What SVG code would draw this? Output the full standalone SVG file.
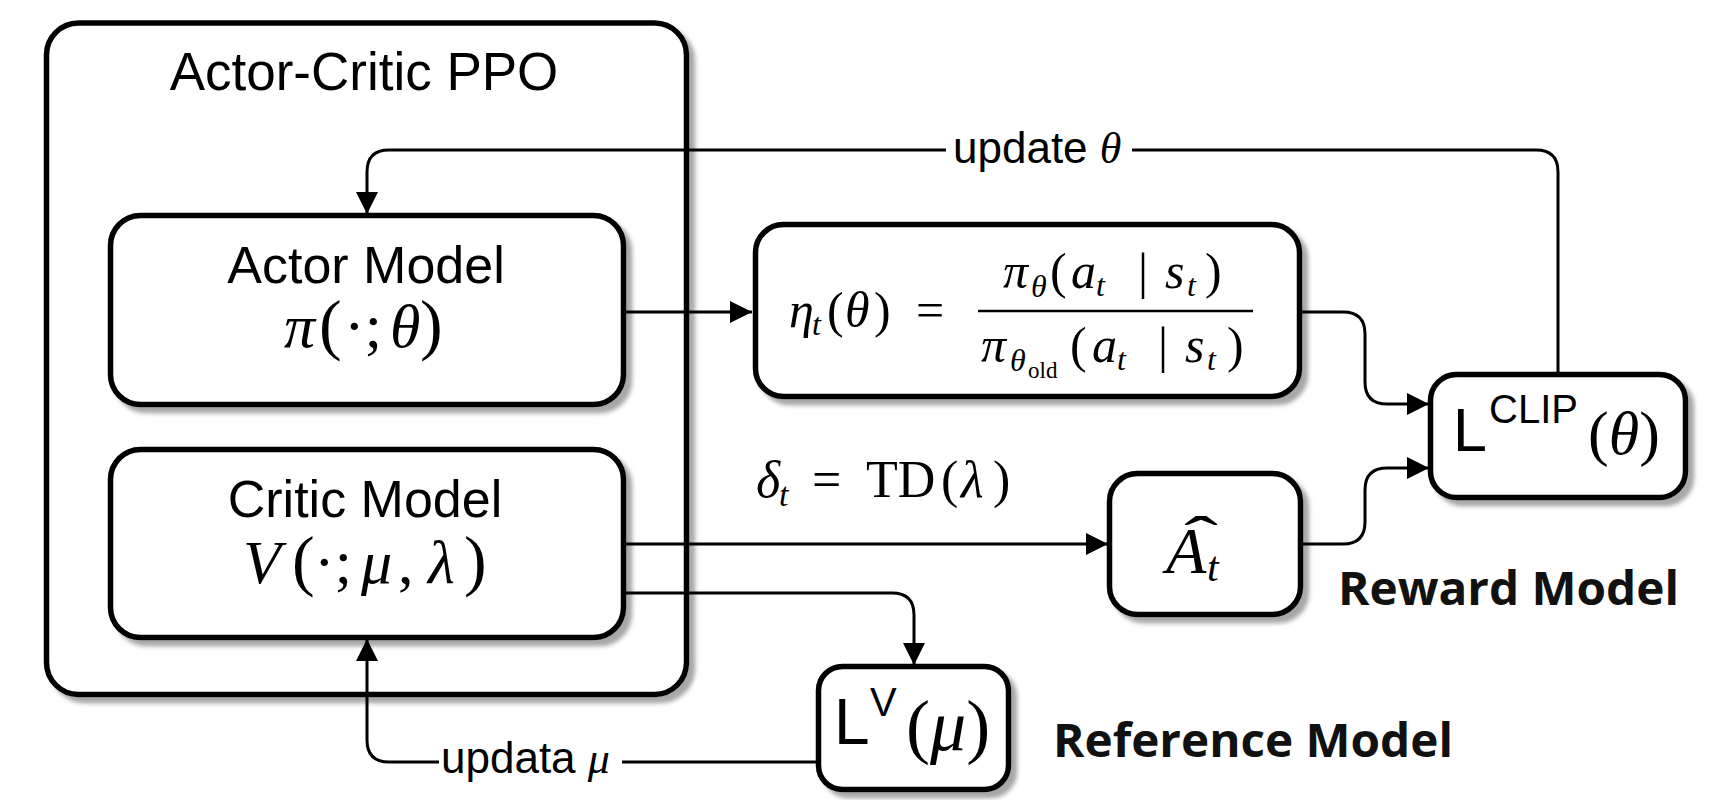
<svg xmlns="http://www.w3.org/2000/svg" width="1734" height="800" viewBox="0 0 1734 800">
<defs>
<filter id="sh" x="-10%" y="-10%" width="130%" height="130%">
<feDropShadow dx="6" dy="6" stdDeviation="2" flood-color="#777" flood-opacity="0.65"/>
</filter>
<marker id="ah" markerUnits="userSpaceOnUse" markerWidth="24" markerHeight="24" refX="22" refY="11" orient="auto">
<path d="M0,0 L22,11 L0,22 Z" fill="#000"/>
</marker>
</defs>
<style>
.box{fill:#fff;stroke:#000;stroke-width:5.5;filter:url(#sh)}
.con{fill:none;stroke:#000;stroke-width:3}
.arr{marker-end:url(#ah)}
.sans{font-family:"Liberation Sans",Arial,sans-serif;fill:#000}
.m{font-family:"Liberation Serif","Times New Roman",serif;fill:#000}
.i{font-style:italic}
.bold{font-family:"Open Sans","Noto Sans",sans-serif;font-weight:700;fill:#111}
</style>
<rect width="1734" height="800" fill="#fff"/>

<g id="actor-critic-ppo">
<rect class="box" x="46.5" y="23" width="640" height="671.5" rx="32"/>
<text class="sans" x="364" y="90" font-size="53" text-anchor="middle">Actor-Critic PPO</text>
</g>

<g id="actor-model">
<rect class="box" x="110.5" y="215.5" width="513" height="189" rx="30"/>
<text class="sans" x="366" y="283" font-size="52" text-anchor="middle">Actor Model</text>
<text class="m" y="347" font-size="62"><tspan x="284" class="i">π</tspan><tspan x="319" font-size="68">(</tspan><tspan x="344">·;</tspan><tspan x="390" class="i">θ</tspan><tspan x="420" font-size="68">)</tspan></text>
</g>

<g id="critic-model">
<rect class="box" x="110.5" y="449.5" width="513" height="188" rx="30"/>
<text class="sans" x="365" y="517" font-size="52" text-anchor="middle">Critic Model</text>
<text class="m" y="583" font-size="62"><tspan x="243" class="i">V</tspan><tspan x="292" font-size="68">(</tspan><tspan x="314">·;</tspan><tspan x="361" class="i">μ</tspan><tspan x="398">,</tspan><tspan x="428" class="i">λ</tspan><tspan x="464" font-size="68">)</tspan></text>
</g>

<g id="ratio">
<rect class="box" x="755.5" y="224.5" width="544" height="172" rx="28"/>
<text class="m" y="327" font-size="50"><tspan x="789" class="i">η</tspan><tspan x="812" y="335" font-size="32" class="i">t</tspan><tspan x="827" y="327">(</tspan><tspan x="845" class="i">θ</tspan><tspan x="874">)</tspan><tspan x="916">=</tspan></text>
<line x1="978" y1="311" x2="1253" y2="311" stroke="#000" stroke-width="2.5"/>
<text class="m" y="288" font-size="50"><tspan x="1003" class="i">π</tspan><tspan x="1031" y="297" font-size="32" class="i">θ</tspan><tspan x="1050" y="288">(</tspan><tspan x="1071" class="i">a</tspan><tspan x="1096" y="296" font-size="32" class="i">t</tspan><tspan x="1138" y="288">|</tspan><tspan x="1165" class="i">s</tspan><tspan x="1187" y="296" font-size="32" class="i">t</tspan><tspan x="1205" y="288">)</tspan></text>
<text class="m" y="362" font-size="50"><tspan x="981" class="i">π</tspan><tspan x="1010" y="371" font-size="32" class="i">θ</tspan><tspan x="1028" y="378" font-size="23">old</tspan><tspan x="1070" y="362">(</tspan><tspan x="1092" class="i">a</tspan><tspan x="1117" y="370" font-size="32" class="i">t</tspan><tspan x="1158" y="362">|</tspan><tspan x="1185" class="i">s</tspan><tspan x="1207" y="370" font-size="32" class="i">t</tspan><tspan x="1227" y="362">)</tspan></text>
</g>

<g id="advantage">
<rect class="box" x="1109.5" y="473.5" width="191" height="141" rx="28"/>
<text class="m i" x="1166" y="573" font-size="66">A</text>
<text class="m i" x="1207" y="581" font-size="42">t</text>
<text class="m" font-size="60" transform="translate(1201,557) scale(1.7,1)" text-anchor="middle">ˆ</text>
</g>

<g id="l-clip">
<rect class="box" x="1430.5" y="374.5" width="255" height="123" rx="26"/>
<text class="sans" x="1453" y="451" font-size="61">L</text>
<text class="sans" x="1489" y="423" font-size="40">CLIP</text>
<text class="m" y="454" font-size="62"><tspan x="1588">(</tspan><tspan class="i">θ</tspan><tspan>)</tspan></text>
</g>

<g id="l-v">
<rect class="box" x="818.5" y="666.5" width="190" height="123" rx="24"/>
<text class="sans" x="834" y="744" font-size="64">L</text>
<text class="sans" x="870" y="716" font-size="40">V</text>
<text class="m" y="750" font-size="72"><tspan x="906">(</tspan><tspan class="i">μ</tspan><tspan>)</tspan></text>
</g>

<g id="labels">
<text class="m" y="497" font-size="52"><tspan x="756" class="i">δ</tspan><tspan x="779" y="506" font-size="34" class="i">t</tspan><tspan x="812" y="497">=</tspan><tspan x="866">TD</tspan><tspan x="941">(</tspan><tspan x="961" class="i">λ</tspan><tspan x="993">)</tspan></text>
<text class="bold" x="1338" y="605" font-size="46" textLength="341" lengthAdjust="spacingAndGlyphs">Reward Model</text>
<text class="bold" x="1053" y="757" font-size="47" textLength="400" lengthAdjust="spacingAndGlyphs">Reference Model</text>
</g>

<g id="connectors">
<path class="con arr" d="M625,312 H752"/>
<path class="con arr" d="M1302,312 H1343 Q1365,312 1365,334 V382 Q1365,404 1387,404 H1429"/>
<path class="con arr" d="M1303,544 H1343 Q1365,544 1365,522 V490 Q1365,468 1387,468 H1429"/>
<path class="con arr" d="M1558,373 V172 Q1558,150 1536,150 H389 Q367,150 367,172 V214"/>
<path class="con arr" d="M625,544 H1108"/>
<path class="con arr" d="M625,593 H892 Q914,593 914,615 V665"/>
<path class="con arr" d="M817,762 H389 Q367,762 367,740 V639"/>
<rect x="946" y="130" width="186" height="42" fill="#fff"/>
<text class="sans" y="163" font-size="44"><tspan x="953">update </tspan><tspan class="m i">θ</tspan></text>
<rect x="439" y="740" width="183" height="45" fill="#fff"/>
<text class="sans" y="773" font-size="44"><tspan x="441">updata </tspan><tspan class="m i">μ</tspan></text>
</g>
</svg>
